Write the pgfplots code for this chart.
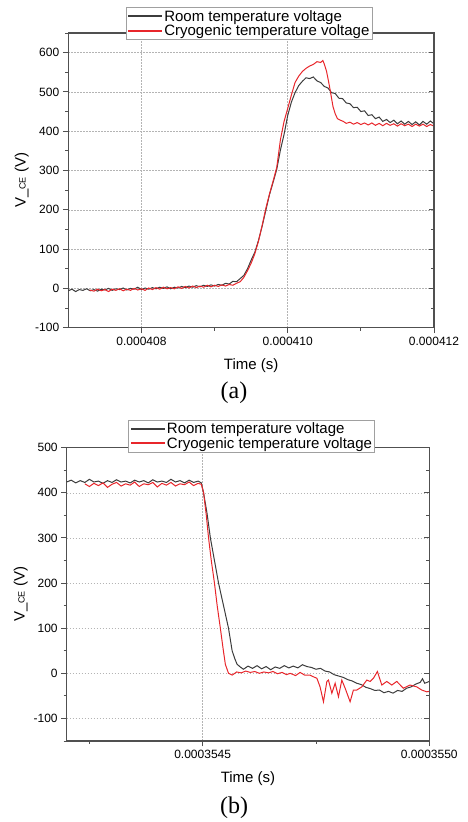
\documentclass[border=0pt]{standalone}
\usepackage{pgfplots}
\pgfplotsset{compat=1.18}
\usepackage{fontspec}
\setmainfont{Liberation Sans}
\newfontfamily\seriffont{Liberation Serif}

\definecolor{roomc}{HTML}{3C3C3C}
\definecolor{cryoc}{HTML}{E8262B}
\definecolor{axc}{HTML}{505050}
\definecolor{gridc}{HTML}{B4B4B4}
\definecolor{legc}{HTML}{A0A0A0}

\pgfplotsset{
  vbase/.style={
    scale only axis,
    anchor=south west,
    axis line style={axc, line width=1.2pt},
    tick style={axc, line width=0.9pt},
    major tick length=5.5pt,
    minor tick length=3pt,
  },
  vstyle/.style={
    vbase,
    tick align=outside,
    xtick pos=bottom, ytick pos=left,
    ticklabel style={font=\fontsize{12}{14}\selectfont, text=black},
    label style={font=\fontsize{15}{18}\selectfont},
    /pgf/number format/assume math mode=true,
    xmajorgrids, ymajorgrids,
    major grid style={gridc, line width=0.5pt, dash pattern=on 1.5pt off 1.5pt},
    legend cell align=left,
    ylabel={V\_{\fontsize{9}{10}\selectfont CE} (V)},
    xlabel={Time (s)},
  },
  rstyle/.style={
    vbase,
    hide x axis,
    axis y line*=right,
    tick align=inside,
    yticklabels={},
  },
}

\begin{document}
\begin{tikzpicture}
\useasboundingbox (0,0) rectangle (468pt,822pt);

% ---------------- panel (a) ----------------
\begin{axis}[vstyle,
  at={(68.3pt,494.3pt)}, width=365.7pt, height=294.7pt,
  xmin=0, xmax=5, ymin=-100, ymax=650,
  xtick={1,3,5}, xticklabels={0.000408,0.000410,0.000412},
  minor xtick={2,4},
  ytick={-100,0,100,200,300,400,500,600},
  yticklabels={-100,0,100,200,300,400,500,600},
  minor ytick={-50,50,150,250,350,450,550,650},
  xlabel style={at={(axis description cs:0.5,-0.1286)}, anchor=center},
  ylabel style={at={(axis description cs:-0.1274,0.5)}, anchor=center},
  legend image code/.code={\draw[#1, line width=1.8pt] (0pt,0pt) -- (34pt,0pt);},
  legend style={at={(axis description cs:0.157,1.087)}, anchor=north west,
    draw=legc, fill=white, line width=0.6pt, text=black,
    font=\fontsize{15}{18}\selectfont, inner sep=1.5pt, row sep=0pt,
    nodes={inner sep=1pt}},
]
\addplot[draw=roomc, line width=1pt] coordinates {
(0.00,-6) (0.05,-2) (0.10,-8) (0.15,-3) (0.20,-5) (0.25,-1) (0.30,-6) (0.35,-3)
(0.40,-7) (0.45,-2) (0.50,-4) (0.55,0) (0.60,-5) (0.65,-1) (0.70,-3) (0.75,1)
(0.80,-4) (0.85,0) (0.90,-2) (0.95,3) (1.00,-3) (1.05,1) (1.10,-2) (1.15,2)
(1.20,-1) (1.25,3) (1.30,0) (1.35,4) (1.40,-1) (1.45,3) (1.50,1) (1.55,5)
(1.60,2) (1.65,6) (1.70,3) (1.75,7) (1.80,4) (1.85,8) (1.90,5) (1.95,9)
(2.00,6) (2.05,10) (2.10,8) (2.15,13) (2.20,11) (2.25,18) (2.30,17) (2.35,25)
(2.40,33) (2.45,50) (2.50,72) (2.55,92) (2.60,122) (2.65,158) (2.70,198) (2.75,238)
(2.80,270) (2.85,303) (2.90,352) (2.95,392) (3.00,440) (3.05,474) (3.10,498) (3.15,516)
(3.20,527) (3.25,536) (3.30,534) (3.35,538) (3.40,528) (3.45,524) (3.50,514) (3.55,510)
(3.60,498) (3.65,496) (3.70,484) (3.75,483) (3.80,472) (3.85,470) (3.90,460) (3.95,461)
(4.00,450) (4.05,452) (4.10,440) (4.15,442) (4.20,432) (4.25,436) (4.30,425) (4.35,430)
(4.40,422) (4.45,428) (4.50,419) (4.55,426) (4.60,418) (4.65,425) (4.70,417) (4.75,424)
(4.80,416) (4.85,425) (4.90,418) (4.95,426) (5.00,419)
};
\addlegendentry{Room temperature voltage}
\addplot[draw=cryoc, line width=1pt] coordinates {
(0.29,-4) (0.35,-7) (0.40,-2) (0.45,-6) (0.50,-3) (0.55,-8) (0.60,-2) (0.65,-5)
(0.70,-1) (0.75,-6) (0.80,-2) (0.85,-5) (0.90,0) (0.95,-4) (1.00,-1) (1.05,-5)
(1.10,1) (1.15,-3) (1.20,2) (1.25,-2) (1.30,3) (1.35,-1) (1.40,2) (1.45,-1)
(1.50,4) (1.55,0) (1.60,5) (1.65,1) (1.70,6) (1.75,2) (1.80,6) (1.85,3)
(1.90,8) (1.95,4) (2.00,8) (2.05,5) (2.10,9) (2.15,6) (2.20,10) (2.25,8)
(2.30,13) (2.35,17) (2.40,28) (2.45,45) (2.50,64) (2.55,88) (2.60,120) (2.65,160)
(2.70,203) (2.75,240) (2.80,273) (2.85,308) (2.90,378) (2.95,425) (3.00,458) (3.05,492)
(3.10,524) (3.15,540) (3.20,552) (3.25,560) (3.30,566) (3.35,570) (3.40,577) (3.45,575)
(3.48,580) (3.50,571) (3.53,553) (3.56,525) (3.58,505) (3.60,483) (3.62,462) (3.65,444)
(3.68,432) (3.72,428) (3.76,425) (3.80,420) (3.85,423) (3.90,418) (3.95,422) (4.00,417)
(4.05,421) (4.10,416) (4.15,421) (4.20,415) (4.25,420) (4.30,414) (4.35,420) (4.40,415)
(4.45,419) (4.50,413) (4.55,419) (4.60,414) (4.65,418) (4.70,412) (4.75,418) (4.80,413)
(4.85,418) (4.90,412) (4.95,417) (5.00,413)
};
\addlegendentry{Cryogenic temperature voltage}
\end{axis}
\begin{axis}[rstyle,
  at={(68.3pt,494.3pt)}, width=365.7pt, height=294.7pt,
  xmin=0, xmax=5, ymin=-100, ymax=650,
  ytick={-100,0,100,200,300,400,500,600},
  minor ytick={-50,50,150,250,350,450,550,650},
]
\end{axis}

% ---------------- panel (b) ----------------
\begin{axis}[vstyle,
  at={(66.7pt,81pt)}, width=362.6pt, height=293.3pt,
  xmin=0.2, xmax=1.0, ymin=-150, ymax=500,
  xtick={0.5,1.0}, xticklabels={0.0003545,0.0003550},
  minor xtick={0.25,0.75},
  ytick={-100,0,100,200,300,400,500},
  yticklabels={-100,0,100,200,300,400,500},
  minor ytick={-150,-50,50,150,250,350,450},
  xlabel style={at={(axis description cs:0.5,-0.1272)}, anchor=center},
  ylabel style={at={(axis description cs:-0.1269,0.5)}, anchor=center},
  legend image code/.code={\draw[#1, line width=1.8pt] (0pt,0pt) -- (34pt,0pt);},
  legend style={at={(axis description cs:0.17,1.0944)}, anchor=north west,
    draw=legc, fill=white, line width=0.6pt, text=black,
    font=\fontsize{15}{18}\selectfont, inner sep=1.5pt, row sep=0pt,
    nodes={inner sep=1pt}},
]
\addplot[draw=roomc, line width=1pt] coordinates {
(0.200,424) (0.210,428) (0.220,422) (0.230,427) (0.240,423) (0.250,430) (0.260,424) (0.270,426)
(0.280,421) (0.290,427) (0.300,423) (0.310,429) (0.320,424) (0.330,426) (0.340,422) (0.350,428)
(0.360,424) (0.370,427) (0.380,422) (0.390,429) (0.400,424) (0.410,426) (0.420,423) (0.430,430)
(0.440,424) (0.450,427) (0.460,422) (0.470,428) (0.480,423) (0.490,426) (0.497,422) (0.502,400)
(0.510,352) (0.517,300) (0.526,250) (0.535,200) (0.546,150) (0.557,100) (0.565,50) (0.571,32)
(0.576,20) (0.583,14) (0.590,9) (0.600,16) (0.610,11) (0.620,17) (0.630,10) (0.640,15)
(0.650,8) (0.660,14) (0.670,11) (0.680,17) (0.690,12) (0.700,16) (0.710,12) (0.720,19)
(0.730,15) (0.740,13) (0.750,9) (0.760,11) (0.770,5) (0.780,3) (0.790,-3) (0.800,-6)
(0.810,-9) (0.820,-14) (0.830,-17) (0.840,-22) (0.850,-25) (0.860,-31) (0.870,-34) (0.880,-38)
(0.890,-37) (0.900,-43) (0.910,-40) (0.920,-44) (0.930,-38) (0.940,-40) (0.950,-33) (0.960,-30)
(0.970,-24) (0.980,-20) (0.985,-12) (0.990,-22) (1.000,-18)
};
\addlegendentry{Room temperature voltage}
\addplot[draw=cryoc, line width=1pt] coordinates {
(0.240,420) (0.250,414) (0.260,421) (0.270,416) (0.280,422) (0.290,412) (0.300,419) (0.310,423)
(0.320,415) (0.330,420) (0.340,417) (0.350,424) (0.360,414) (0.370,420) (0.380,418) (0.390,423)
(0.400,413) (0.410,421) (0.420,417) (0.430,423) (0.440,415) (0.450,420) (0.460,418) (0.470,424)
(0.480,416) (0.490,421) (0.497,419) (0.502,400) (0.508,350) (0.513,300) (0.519,250) (0.526,200)
(0.532,150) (0.539,100) (0.545,55) (0.550,20) (0.557,0) (0.565,-4) (0.575,3) (0.585,1)
(0.595,5) (0.605,2) (0.615,4) (0.625,0) (0.635,3) (0.645,1) (0.655,4) (0.665,-1)
(0.675,2) (0.685,-3) (0.693,0) (0.705,-5) (0.715,2) (0.725,-4) (0.737,-4) (0.745,-8)
(0.752,-11) (0.759,-30) (0.7665,-63) (0.774,-18) (0.7775,-15) (0.785,-44) (0.7923,-22) (0.7996,-52)
(0.807,-15) (0.8143,-33) (0.8253,-63) (0.8326,-37) (0.8401,-37) (0.8511,-30) (0.8621,-15) (0.8694,-18)
(0.8767,-11) (0.8855,4) (0.8952,-26) (0.9062,-18) (0.9172,-26) (0.9282,-18) (0.9427,-33) (0.9575,-26)
(0.9722,-30) (0.9833,-37) (0.9943,-41) (1.000,-40)
};
\addlegendentry{Cryogenic temperature voltage}
\end{axis}
\begin{axis}[rstyle,
  at={(66.7pt,81pt)}, width=362.6pt, height=293.3pt,
  xmin=0.2, xmax=1.0, ymin=-150, ymax=500,
  ytick={-100,0,100,200,300,400,500},
  minor ytick={-150,-50,50,150,250,350,450},
]
\end{axis}

\node[font=\seriffont\fontsize{24}{28}\selectfont] at (234pt,429pt) {(a)};
\node[font=\seriffont\fontsize{24}{28}\selectfont] at (234pt,14pt) {(b)};
\end{tikzpicture}
\end{document}
